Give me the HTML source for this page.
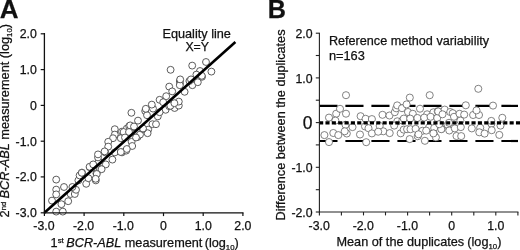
<!DOCTYPE html><html><head><meta charset="utf-8"><title>Figure</title>
<style>html,body{margin:0;padding:0;background:#fff;}svg{display:block;filter:blur(0.3px);}text{font-family:"Liberation Sans", sans-serif;fill:#111;stroke:#111;stroke-width:0.25px;}</style></head><body>
<svg width="520" height="250" viewBox="0 0 520 250">
<rect width="520" height="250" fill="#fff"/>
<text x="-0.3" y="17.5" font-size="26" font-weight="bold" fill="#000">A</text>
<text x="267.7" y="17.5" font-size="25.2" font-weight="bold" fill="#000">B</text>
<g fill="#fff" stroke="#4a4a4a" stroke-width="0.9">
<circle cx="56.2" cy="211.6" r="3.45"/>
<circle cx="62.8" cy="211.6" r="3.45"/>
<circle cx="52.0" cy="200.6" r="3.45"/>
<circle cx="61.4" cy="204.2" r="3.45"/>
<circle cx="68.2" cy="201.2" r="3.45"/>
<circle cx="56.2" cy="189.6" r="3.45"/>
<circle cx="56.2" cy="194.4" r="3.45"/>
<circle cx="64.0" cy="187.0" r="3.45"/>
<circle cx="70.6" cy="194.0" r="3.45"/>
<circle cx="74.8" cy="194.0" r="3.45"/>
<circle cx="76.0" cy="189.8" r="3.45"/>
<circle cx="56.2" cy="179.6" r="3.45"/>
<circle cx="72.4" cy="187.0" r="3.45"/>
<circle cx="78.4" cy="180.4" r="3.45"/>
<circle cx="79.6" cy="175.4" r="3.45"/>
<circle cx="82.0" cy="172.6" r="3.45"/>
<circle cx="86.2" cy="183.8" r="3.45"/>
<circle cx="89.8" cy="167.2" r="3.45"/>
<circle cx="95.8" cy="180.4" r="3.45"/>
<circle cx="96.4" cy="173.4" r="3.45"/>
<circle cx="94.0" cy="164.8" r="3.45"/>
<circle cx="98.8" cy="161.4" r="3.45"/>
<circle cx="100.0" cy="169.0" r="3.45"/>
<circle cx="81.8" cy="172.8" r="3.45"/>
<circle cx="89.6" cy="166.8" r="3.45"/>
<circle cx="98.0" cy="157.4" r="3.45"/>
<circle cx="105.2" cy="152.4" r="3.45"/>
<circle cx="112.4" cy="159.6" r="3.45"/>
<circle cx="105.8" cy="164.4" r="3.45"/>
<circle cx="101.6" cy="169.2" r="3.45"/>
<circle cx="96.8" cy="174.0" r="3.45"/>
<circle cx="95.6" cy="178.8" r="3.45"/>
<circle cx="122.0" cy="152.4" r="3.45"/>
<circle cx="114.8" cy="152.4" r="3.45"/>
<circle cx="126.2" cy="150.6" r="3.45"/>
<circle cx="88.4" cy="178.2" r="3.45"/>
<circle cx="93.2" cy="164.4" r="3.45"/>
<circle cx="114.8" cy="129.2" r="3.45"/>
<circle cx="114.8" cy="134.6" r="3.45"/>
<circle cx="113.0" cy="138.2" r="3.45"/>
<circle cx="108.2" cy="141.8" r="3.45"/>
<circle cx="108.2" cy="146.6" r="3.45"/>
<circle cx="104.6" cy="151.4" r="3.45"/>
<circle cx="98.0" cy="154.4" r="3.45"/>
<circle cx="122.0" cy="131.6" r="3.45"/>
<circle cx="126.8" cy="128.6" r="3.45"/>
<circle cx="129.2" cy="126.2" r="3.45"/>
<circle cx="132.8" cy="127.4" r="3.45"/>
<circle cx="126.2" cy="135.8" r="3.45"/>
<circle cx="120.8" cy="138.2" r="3.45"/>
<circle cx="131.6" cy="141.8" r="3.45"/>
<circle cx="132.2" cy="146.0" r="3.45"/>
<circle cx="126.8" cy="149.0" r="3.45"/>
<circle cx="120.8" cy="152.0" r="3.45"/>
<circle cx="137.6" cy="137.0" r="3.45"/>
<circle cx="140.0" cy="134.6" r="3.45"/>
<circle cx="131.4" cy="112.8" r="3.45"/>
<circle cx="138.0" cy="120.6" r="3.45"/>
<circle cx="130.2" cy="125.4" r="3.45"/>
<circle cx="123.6" cy="132.0" r="3.45"/>
<circle cx="129.0" cy="132.0" r="3.45"/>
<circle cx="145.2" cy="111.0" r="3.45"/>
<circle cx="147.0" cy="115.2" r="3.45"/>
<circle cx="153.0" cy="108.6" r="3.45"/>
<circle cx="152.4" cy="124.2" r="3.45"/>
<circle cx="156.0" cy="124.2" r="3.45"/>
<circle cx="157.8" cy="116.4" r="3.45"/>
<circle cx="148.2" cy="129.6" r="3.45"/>
<circle cx="147.6" cy="133.2" r="3.45"/>
<circle cx="142.8" cy="129.0" r="3.45"/>
<circle cx="165.6" cy="109.8" r="3.45"/>
<circle cx="169.2" cy="106.2" r="3.45"/>
<circle cx="174.6" cy="108.0" r="3.45"/>
<circle cx="159.6" cy="112.2" r="3.45"/>
<circle cx="178.8" cy="105.6" r="3.45"/>
<circle cx="169.2" cy="86.6" r="3.45"/>
<circle cx="172.2" cy="91.4" r="3.45"/>
<circle cx="166.2" cy="96.2" r="3.45"/>
<circle cx="159.6" cy="99.8" r="3.45"/>
<circle cx="163.2" cy="102.2" r="3.45"/>
<circle cx="151.8" cy="104.6" r="3.45"/>
<circle cx="145.8" cy="108.8" r="3.45"/>
<circle cx="178.8" cy="101.6" r="3.45"/>
<circle cx="170.4" cy="105.8" r="3.45"/>
<circle cx="180.0" cy="83.6" r="3.45"/>
<circle cx="179.8" cy="81.0" r="3.45"/>
<circle cx="184.6" cy="91.8" r="3.45"/>
<circle cx="192.4" cy="85.2" r="3.45"/>
<circle cx="197.8" cy="82.2" r="3.45"/>
<circle cx="202.0" cy="76.8" r="3.45"/>
<circle cx="179.8" cy="85.2" r="3.45"/>
<circle cx="189.4" cy="81.0" r="3.45"/>
<circle cx="174.4" cy="103.2" r="3.45"/>
<circle cx="206.0" cy="62.0" r="3.45"/>
<circle cx="192.2" cy="65.6" r="3.45"/>
<circle cx="211.4" cy="71.6" r="3.45"/>
<circle cx="200.0" cy="71.0" r="3.45"/>
<circle cx="196.4" cy="74.6" r="3.45"/>
<circle cx="201.8" cy="75.8" r="3.45"/>
<circle cx="170.6" cy="69.8" r="3.45"/>
<circle cx="180.2" cy="79.4" r="3.45"/>
<circle cx="191.0" cy="79.4" r="3.45"/>
<circle cx="134.0" cy="126.5" r="3.45"/>
<circle cx="143.0" cy="128.5" r="3.45"/>
<circle cx="136.0" cy="137.5" r="3.45"/>
<circle cx="125.0" cy="137.5" r="3.45"/>
</g>
<line x1="44.4" y1="212.8" x2="235.4" y2="42.0" stroke="#000" stroke-width="2.6"/>
<path d="M44.4 33.1 V212.8 H243.5" stroke="#111" stroke-width="1.3" fill="none"/>
<path d="M44.4 212.8 h-3.7" stroke="#111" stroke-width="1.2" fill="none"/>
<path d="M44.4 212.8 v3.3" stroke="#111" stroke-width="1.2" fill="none"/>
<text x="36.8" y="217.2" font-size="12.3" text-anchor="end">-3.0</text>
<text x="43.9" y="230.0" font-size="12.3" text-anchor="middle">-3.0</text>
<path d="M44.4 176.9 h-3.7" stroke="#111" stroke-width="1.2" fill="none"/>
<path d="M84.1 212.8 v3.3" stroke="#111" stroke-width="1.2" fill="none"/>
<text x="36.8" y="181.4" font-size="12.3" text-anchor="end">-2.0</text>
<text x="83.6" y="230.0" font-size="12.3" text-anchor="middle">-2.0</text>
<path d="M44.4 141.2 h-3.7" stroke="#111" stroke-width="1.2" fill="none"/>
<path d="M123.8 212.8 v3.3" stroke="#111" stroke-width="1.2" fill="none"/>
<text x="36.8" y="145.7" font-size="12.3" text-anchor="end">-1.0</text>
<text x="123.3" y="230.0" font-size="12.3" text-anchor="middle">-1.0</text>
<path d="M44.4 105.4 h-3.7" stroke="#111" stroke-width="1.2" fill="none"/>
<path d="M163.5 212.8 v3.3" stroke="#111" stroke-width="1.2" fill="none"/>
<text x="36.8" y="109.9" font-size="12.3" text-anchor="end">0</text>
<text x="163.5" y="230.0" font-size="12.3" text-anchor="middle">0</text>
<path d="M44.4 69.6 h-3.7" stroke="#111" stroke-width="1.2" fill="none"/>
<path d="M203.2 212.8 v3.3" stroke="#111" stroke-width="1.2" fill="none"/>
<text x="36.8" y="74.1" font-size="12.3" text-anchor="end">1.0</text>
<text x="203.2" y="230.0" font-size="12.3" text-anchor="middle">1.0</text>
<path d="M44.4 33.8 h-3.7" stroke="#111" stroke-width="1.2" fill="none"/>
<path d="M242.9 212.8 v3.3" stroke="#111" stroke-width="1.2" fill="none"/>
<text x="36.8" y="38.2" font-size="12.3" text-anchor="end">2.0</text>
<text x="242.9" y="230.0" font-size="12.3" text-anchor="middle">2.0</text>
<text x="196.7" y="37.7" font-size="12.7" text-anchor="middle">Equality line</text>
<text x="197.2" y="51.3" font-size="12.3" text-anchor="middle">X=Y</text>
<text x="50.6" y="246.9" font-size="12.7">1<tspan font-size="7.8" dy="-3.5">st</tspan><tspan dy="3.5"> </tspan><tspan font-style="italic" dx="-1">BCR-ABL</tspan> measurement <tspan dx="-1.2">(log</tspan><tspan font-size="7.8" dy="3.1">10</tspan><tspan dy="-3.1">)</tspan></text>
<text transform="translate(9.3,217.4) rotate(-90)" font-size="12.75">2<tspan font-size="7.8" dy="-3.5">nd</tspan><tspan dy="3.5"> </tspan><tspan font-style="italic" dx="-0.4">BCR-ABL</tspan> measurement <tspan dx="0">(log</tspan><tspan font-size="7.8" dy="3.1">10</tspan><tspan dy="-3.1">)</tspan></text>
<line x1="319.4" y1="105.9" x2="518.0" y2="105.9" stroke="#000" stroke-width="2.2" stroke-dasharray="18.1 7.9"/>
<line x1="319.4" y1="141.0" x2="518.0" y2="141.0" stroke="#000" stroke-width="2.2" stroke-dasharray="18.1 7.9"/>
<g fill="#fff" stroke="#5a5a5a" stroke-width="0.75">
<circle cx="346.0" cy="95.2" r="3.55"/>
<circle cx="336.2" cy="113.7" r="3.55"/>
<circle cx="346.0" cy="113.7" r="3.55"/>
<circle cx="340.0" cy="108.8" r="3.55"/>
<circle cx="329.0" cy="117.6" r="3.55"/>
<circle cx="335.4" cy="120.6" r="3.55"/>
<circle cx="345.5" cy="124.8" r="3.55"/>
<circle cx="352.5" cy="127.1" r="3.55"/>
<circle cx="324.4" cy="135.1" r="3.55"/>
<circle cx="333.3" cy="133.0" r="3.55"/>
<circle cx="338.3" cy="135.1" r="3.55"/>
<circle cx="346.8" cy="133.5" r="3.55"/>
<circle cx="344.7" cy="131.3" r="3.55"/>
<circle cx="329.0" cy="142.1" r="3.55"/>
<circle cx="360.6" cy="116.2" r="3.55"/>
<circle cx="365.6" cy="118.8" r="3.55"/>
<circle cx="371.9" cy="119.1" r="3.55"/>
<circle cx="382.5" cy="114.8" r="3.55"/>
<circle cx="389.5" cy="115.5" r="3.55"/>
<circle cx="394.8" cy="112.2" r="3.55"/>
<circle cx="396.2" cy="108.3" r="3.55"/>
<circle cx="397.2" cy="105.4" r="3.55"/>
<circle cx="397.3" cy="121.3" r="3.55"/>
<circle cx="402.4" cy="120.5" r="3.55"/>
<circle cx="365.0" cy="126.4" r="3.55"/>
<circle cx="368.5" cy="128.2" r="3.55"/>
<circle cx="379.7" cy="125.9" r="3.55"/>
<circle cx="394.2" cy="125.6" r="3.55"/>
<circle cx="360.0" cy="134.5" r="3.55"/>
<circle cx="371.9" cy="133.4" r="3.55"/>
<circle cx="383.3" cy="131.3" r="3.55"/>
<circle cx="378.2" cy="131.7" r="3.55"/>
<circle cx="389.7" cy="133.1" r="3.55"/>
<circle cx="400.7" cy="133.3" r="3.55"/>
<circle cx="366.2" cy="142.2" r="3.55"/>
<circle cx="409.8" cy="97.6" r="3.55"/>
<circle cx="429.7" cy="95.2" r="3.55"/>
<circle cx="402.0" cy="108.2" r="3.55"/>
<circle cx="406.6" cy="104.4" r="3.55"/>
<circle cx="408.0" cy="112.0" r="3.55"/>
<circle cx="412.8" cy="113.8" r="3.55"/>
<circle cx="420.0" cy="108.7" r="3.55"/>
<circle cx="427.1" cy="114.3" r="3.55"/>
<circle cx="433.4" cy="112.3" r="3.55"/>
<circle cx="437.7" cy="111.2" r="3.55"/>
<circle cx="403.8" cy="118.6" r="3.55"/>
<circle cx="410.2" cy="118.6" r="3.55"/>
<circle cx="417.4" cy="118.0" r="3.55"/>
<circle cx="424.2" cy="117.6" r="3.55"/>
<circle cx="430.6" cy="116.8" r="3.55"/>
<circle cx="437.2" cy="118.0" r="3.55"/>
<circle cx="403.7" cy="129.6" r="3.55"/>
<circle cx="407.1" cy="129.2" r="3.55"/>
<circle cx="410.5" cy="129.2" r="3.55"/>
<circle cx="415.6" cy="128.8" r="3.55"/>
<circle cx="422.4" cy="130.8" r="3.55"/>
<circle cx="429.1" cy="127.3" r="3.55"/>
<circle cx="434.2" cy="128.0" r="3.55"/>
<circle cx="426.2" cy="130.6" r="3.55"/>
<circle cx="441.6" cy="128.9" r="3.55"/>
<circle cx="417.7" cy="136.2" r="3.55"/>
<circle cx="418.5" cy="134.3" r="3.55"/>
<circle cx="433.8" cy="133.5" r="3.55"/>
<circle cx="435.9" cy="137.4" r="3.55"/>
<circle cx="409.7" cy="139.1" r="3.55"/>
<circle cx="424.9" cy="140.8" r="3.55"/>
<circle cx="478.3" cy="88.8" r="3.55"/>
<circle cx="438.2" cy="111.5" r="3.55"/>
<circle cx="444.7" cy="109.6" r="3.55"/>
<circle cx="442.5" cy="114.3" r="3.55"/>
<circle cx="450.2" cy="112.0" r="3.55"/>
<circle cx="452.7" cy="113.2" r="3.55"/>
<circle cx="454.0" cy="116.8" r="3.55"/>
<circle cx="459.5" cy="113.8" r="3.55"/>
<circle cx="464.2" cy="114.6" r="3.55"/>
<circle cx="473.1" cy="115.0" r="3.55"/>
<circle cx="479.0" cy="115.0" r="3.55"/>
<circle cx="476.5" cy="110.4" r="3.55"/>
<circle cx="465.8" cy="105.3" r="3.55"/>
<circle cx="460.4" cy="120.6" r="3.55"/>
<circle cx="447.6" cy="124.8" r="3.55"/>
<circle cx="441.3" cy="129.2" r="3.55"/>
<circle cx="449.3" cy="130.5" r="3.55"/>
<circle cx="454.8" cy="128.4" r="3.55"/>
<circle cx="460.8" cy="127.1" r="3.55"/>
<circle cx="471.8" cy="128.4" r="3.55"/>
<circle cx="456.5" cy="136.0" r="3.55"/>
<circle cx="461.2" cy="136.1" r="3.55"/>
<circle cx="433.4" cy="133.4" r="3.55"/>
<circle cx="480.2" cy="127.7" r="3.55"/>
<circle cx="479.3" cy="132.3" r="3.55"/>
<circle cx="484.6" cy="133.6" r="3.55"/>
<circle cx="493.0" cy="105.6" r="3.55"/>
<circle cx="502.3" cy="117.8" r="3.55"/>
<circle cx="491.4" cy="123.8" r="3.55"/>
<circle cx="491.3" cy="120.9" r="3.55"/>
<circle cx="491.7" cy="130.2" r="3.55"/>
<circle cx="499.3" cy="134.9" r="3.55"/>
<circle cx="500.5" cy="125.6" r="3.55"/>
<circle cx="449.0" cy="122.8" r="3.55"/>
<circle cx="439.2" cy="124.2" r="3.55"/>
</g>
<line x1="319.1" y1="122.8" x2="520" y2="122.8" stroke="#000" stroke-width="3.3" stroke-dasharray="4.1 2.25"/>
<path d="M319.4 32.7 V212.0 H518.4" stroke="#222" stroke-width="1.1" fill="none"/>
<path d="M319.4 212.0 h-3.6" stroke="#222" stroke-width="1.1" fill="none"/>
<text x="312.6" y="217.0" font-size="12.3" text-anchor="end">-2.0</text>
<path d="M319.4 189.7 h-3.6" stroke="#222" stroke-width="1.1" fill="none"/>
<path d="M319.4 167.3 h-3.6" stroke="#222" stroke-width="1.1" fill="none"/>
<text x="312.6" y="172.3" font-size="12.3" text-anchor="end">-1.0</text>
<path d="M319.4 144.9 h-3.6" stroke="#222" stroke-width="1.1" fill="none"/>
<path d="M319.4 122.6 h-3.6" stroke="#222" stroke-width="1.1" fill="none"/>
<text x="312.4" y="129" font-size="17.5" text-anchor="end">0</text>
<path d="M319.4 100.2 h-3.6" stroke="#222" stroke-width="1.1" fill="none"/>
<path d="M319.4 77.9 h-3.6" stroke="#222" stroke-width="1.1" fill="none"/>
<text x="312.6" y="82.9" font-size="12.3" text-anchor="end">1.0</text>
<path d="M319.4 55.5 h-3.6" stroke="#222" stroke-width="1.1" fill="none"/>
<path d="M319.4 33.2 h-3.6" stroke="#222" stroke-width="1.1" fill="none"/>
<text x="312.6" y="38.2" font-size="12.3" text-anchor="end">2.0</text>
<path d="M319.4 212.0 v3.4" stroke="#222" stroke-width="1.1" fill="none"/>
<text x="319.2" y="229.6" font-size="12.3" text-anchor="middle">-3.0</text>
<path d="M341.4 212.0 v3.4" stroke="#222" stroke-width="1.1" fill="none"/>
<path d="M363.5 212.0 v3.4" stroke="#222" stroke-width="1.1" fill="none"/>
<text x="363.3" y="229.6" font-size="12.3" text-anchor="middle">-2.0</text>
<path d="M385.5 212.0 v3.4" stroke="#222" stroke-width="1.1" fill="none"/>
<path d="M407.6 212.0 v3.4" stroke="#222" stroke-width="1.1" fill="none"/>
<text x="407.4" y="229.6" font-size="12.3" text-anchor="middle">-1.0</text>
<path d="M429.6 212.0 v3.4" stroke="#222" stroke-width="1.1" fill="none"/>
<path d="M451.7 212.0 v3.4" stroke="#222" stroke-width="1.1" fill="none"/>
<text x="451.7" y="229.6" font-size="12.3" text-anchor="middle">0</text>
<path d="M473.8 212.0 v3.4" stroke="#222" stroke-width="1.1" fill="none"/>
<path d="M495.8 212.0 v3.4" stroke="#222" stroke-width="1.1" fill="none"/>
<text x="495.8" y="229.6" font-size="12.3" text-anchor="middle">1.0</text>
<path d="M517.9 212.0 v3.4" stroke="#222" stroke-width="1.1" fill="none"/>
<text x="328.9" y="44.7" font-size="12.65">Reference method variability</text>
<text x="328.9" y="59.6" font-size="12.8">n=163</text>
<text x="336.5" y="246.2" font-size="12.7">Mean of the duplicates <tspan dx="-0.4">(log</tspan><tspan font-size="7.8" dy="3.1">10</tspan><tspan dy="-3.1">)</tspan></text>
<text transform="translate(284.8,220.4) rotate(-90)" font-size="12.7">Difference between the duplicates</text>
</svg></body></html>
